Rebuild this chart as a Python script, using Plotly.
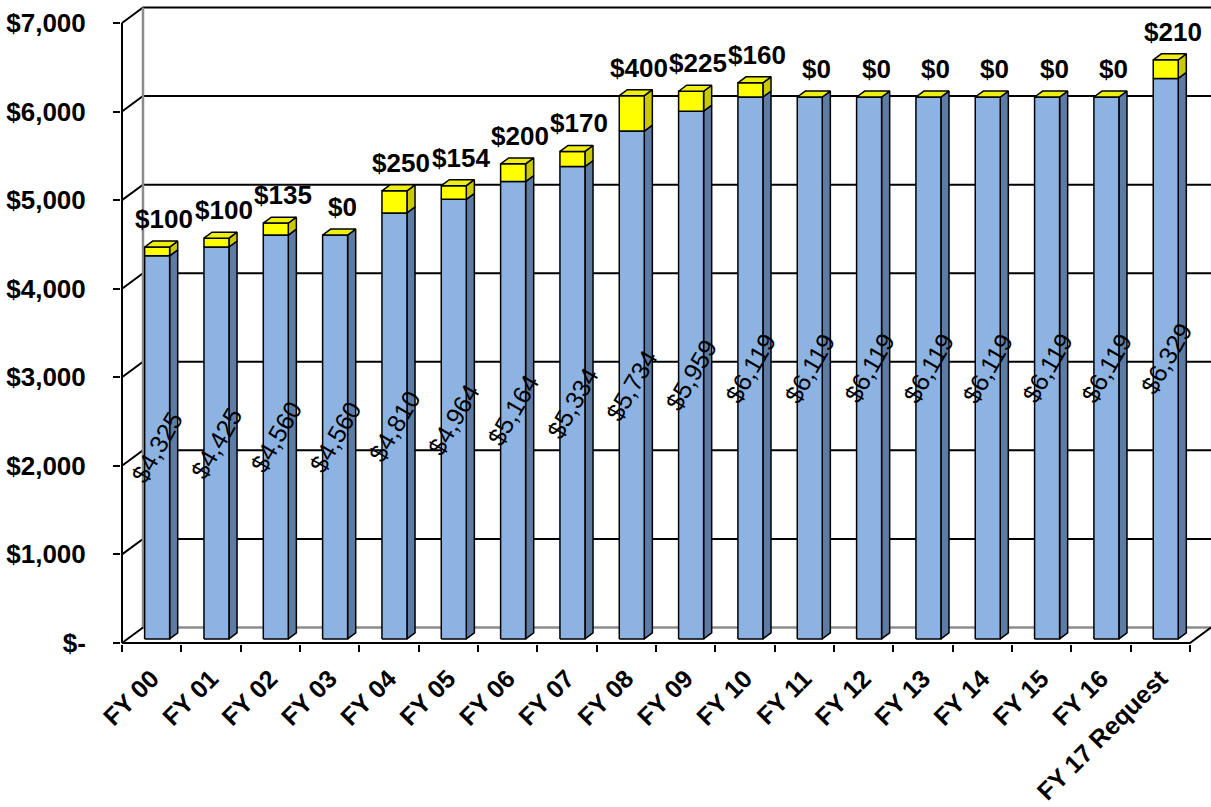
import plotly.graph_objects as go

# ---- data -------------------------------------------------------------
categories = ["FY 00", "FY 01", "FY 02", "FY 03", "FY 04", "FY 05", "FY 06",
              "FY 07", "FY 08", "FY 09", "FY 10", "FY 11", "FY 12", "FY 13",
              "FY 14", "FY 15", "FY 16", "FY 17 Request"]
base_funding = [4325, 4425, 4560, 4560, 4810, 4964, 5164, 5334, 5734, 5959,
                6119, 6119, 6119, 6119, 6119, 6119, 6119, 6329]
increase = [100, 100, 135, 0, 250, 154, 200, 170, 400, 225,
            160, 0, 0, 0, 0, 0, 0, 210]
y_tick_vals = [0, 1000, 2000, 3000, 4000, 5000, 6000, 7000]
y_tick_text = ["$-", "$1,000", "$2,000", "$3,000", "$4,000", "$5,000",
               "$6,000", "$7,000"]

# ---- page / axis geometry ---------------------------------------------
W, H = 1211, 807
M_L, M_R, M_T, M_B = 121, 0, 6, 163
PX_PER_CAT = 59.33
PX_PER_USD = 620 / 7000.0
X_LO = -0.5 - 1 / PX_PER_CAT
X_HI = X_LO + (W - M_L - M_R) / PX_PER_CAT
Y_LO = -12
Y_HI = 7000 + 17 / PX_PER_USD

# oblique depth of the 3-D box (wall offset) in data units
DEPTH_X = 21 / PX_PER_CAT
DEPTH_Y = 15.5 / PX_PER_USD
BAR_FRONT, BAR_BACK = 0.26, 0.645      # bar position inside the depth
BAR_W = 25 / PX_PER_CAT

FONT = "Arial, 'Liberation Sans', sans-serif"
BLUE_FRONT, BLUE_SIDE = "#8DB3E2", "#5C7CA4"
YEL_FRONT, YEL_SIDE, YEL_TOP = "#FFFF00", "#C9C900", "#EEEE10"

fx, fy = BAR_FRONT * DEPTH_X, BAR_FRONT * DEPTH_Y
dx, dy = (BAR_BACK - BAR_FRONT) * DEPTH_X, (BAR_BACK - BAR_FRONT) * DEPTH_Y


def add_poly(xs, ys, pts):
    for px, py in pts + [pts[0]]:
        xs.append(px)
        ys.append(py)
    xs.append(None)
    ys.append(None)


def faces(i, lo, hi):
    xl = i - BAR_W / 2 + fx
    xr = i + BAR_W / 2 + fx
    front = [(xl, lo + fy), (xr, lo + fy), (xr, hi + fy), (xl, hi + fy)]
    side = [(xr, lo + fy), (xr + dx, lo + fy + dy),
            (xr + dx, hi + fy + dy), (xr, hi + fy)]
    top = [(xl, hi + fy), (xr, hi + fy),
           (xr + dx, hi + fy + dy), (xl + dx, hi + fy + dy)]
    return front, side, top


fig = go.Figure()

# ---- box walls and grid ------------------------------------------------
grid_x, grid_y = [], []
for v in y_tick_vals[1:]:
    grid_x += [-0.5, -0.5 + DEPTH_X, X_HI + 1, None]
    grid_y += [v, v + DEPTH_Y, v + DEPTH_Y, None]
fig.add_trace(go.Scatter(x=grid_x, y=grid_y, mode="lines",
                         line=dict(color="black", width=2),
                         hoverinfo="skip", showlegend=False))

# back-wall left edge and floor back edge
fig.add_trace(go.Scatter(
    x=[-0.5 + DEPTH_X, -0.5 + DEPTH_X, None, -0.5 + DEPTH_X, X_HI + 1],
    y=[DEPTH_Y, 7000 + DEPTH_Y, None, DEPTH_Y, DEPTH_Y],
    mode="lines", line=dict(color="#8C8C8C", width=2.5),
    hoverinfo="skip", showlegend=False))

# floor front edge and side diagonals, front vertical axis
n = len(categories)
fig.add_trace(go.Scatter(
    x=[-0.5, n - 0.5, n - 0.5 + DEPTH_X, None,
       -0.5, -0.5 + DEPTH_X, None, -0.5, -0.5],
    y=[0, 0, DEPTH_Y, None, 0, DEPTH_Y, None, 0, 7000],
    mode="lines", line=dict(color="black", width=2),
    hoverinfo="skip", showlegend=False))

# ---- 3-D stacked bars --------------------------------------------------
bs_x, bs_y, bf_x, bf_y = [], [], [], []
ys_x, ys_y, yf_x, yf_y, yt_x, yt_y = [], [], [], [], [], []
for i, (b, inc) in enumerate(zip(base_funding, increase)):
    front, side, _ = faces(i, 0, b)
    add_poly(bf_x, bf_y, front)
    add_poly(bs_x, bs_y, side)
    front, side, top = faces(i, b, b + inc)
    if inc > 0:
        add_poly(yf_x, yf_y, front)
        add_poly(ys_x, ys_y, side)
    add_poly(yt_x, yt_y, top)

for xs, ys, col in [(bs_x, bs_y, BLUE_SIDE), (bf_x, bf_y, BLUE_FRONT),
                    (ys_x, ys_y, YEL_SIDE), (yf_x, yf_y, YEL_FRONT),
                    (yt_x, yt_y, YEL_TOP)]:
    fig.add_trace(go.Scatter(x=xs, y=ys, mode="lines", fill="toself",
                             fillcolor=col,
                             line=dict(color="black", width=1.5),
                             hoverinfo="skip", showlegend=False))

# ---- value labels -------------------------------------------------------
annotations = []
for i, (b, inc) in enumerate(zip(base_funding, increase)):
    annotations.append(dict(
        x=i + fx, y=b / 2 + fy, xref="x", yref="y", showarrow=False,
        text=f"${b:,}", textangle=-60,
        font=dict(family=FONT, size=25, color="black")))
    annotations.append(dict(
        x=i + fx + dx / 2, y=b + inc + fy, xref="x", yref="y",
        showarrow=False, text=f"${inc:,}", yanchor="middle", yshift=28,
        xshift=3,
        font=dict(family=FONT, size=26, color="black", weight="bold")))

fig.update_layout(
    width=W, height=H,
    margin=dict(l=M_L, r=M_R, t=M_T, b=M_B, pad=0),
    paper_bgcolor="white", plot_bgcolor="white",
    template="none",
    showlegend=False,
    annotations=annotations,
    xaxis=dict(
        range=[X_LO, X_HI], tickmode="array",
        tickvals=list(range(n)), ticktext=categories,
        tickangle=-45, ticks="", ticklabelstandoff=14,
        tickfont=dict(family=FONT, size=25, color="black", weight="bold"),
        minor=dict(tickmode="linear", tick0=-0.5, dtick=1, ticks="outside",
                   ticklen=7, tickwidth=1.5, tickcolor="black",
                   showgrid=False),
        showgrid=False, zeroline=False, showline=False, automargin=False,
        fixedrange=True),
    yaxis=dict(
        range=[Y_LO, Y_HI], tickmode="array",
        tickvals=y_tick_vals, ticktext=y_tick_text,
        ticks="outside", ticklen=7, tickwidth=1.5, tickcolor="black",
        ticklabelstandoff=22,
        tickfont=dict(family=FONT, size=26, color="black", weight="bold"),
        showgrid=False, zeroline=False, showline=False, automargin=False,
        fixedrange=True),
)

fig.write_html("out.html")
